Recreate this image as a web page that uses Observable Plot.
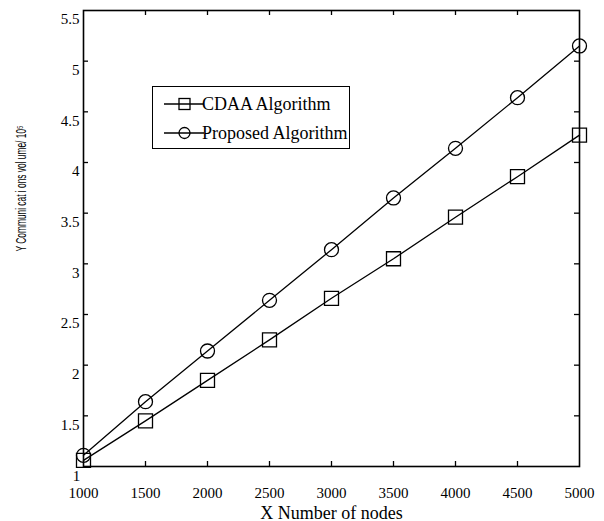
<!DOCTYPE html>
<html>
<head>
<meta charset="utf-8">
<script src="https://cdn.jsdelivr.net/npm/d3@7"></script>
<script src="https://cdn.jsdelivr.net/npm/@observablehq/plot@0.6"></script>
<style>
  html, body { margin: 0; padding: 0; background: #fff; }
  #wrap { position: relative; width: 604px; height: 521px; }
  #legend { position: absolute; left: 152px; top: 86px; width: 196px; height: 61px;
    border: 1.5px solid #000; background: #fff; font-family: "Liberation Serif", "Times New Roman", serif;
    font-size: 18px; color: #000; box-sizing: content-box; white-space: nowrap; }
  #legend .row { position: absolute; left: 0; height: 20px; display: flex; align-items: center; }
  #legend svg { display: block; flex: none; }
</style>
</head>
<body>
<div id="wrap"></div>
<script>
const nodes = [1000, 1500, 2000, 2500, 3000, 3500, 4000, 4500, 5000];
const cdaa = [1.06, 1.45, 1.85, 2.25, 2.66, 3.05, 3.46, 3.86, 4.27];
const proposed = [1.11, 1.64, 2.14, 2.64, 3.14, 3.65, 4.14, 4.64, 5.15];
const xTicks = [1000, 1500, 2000, 2500, 3000, 3500, 4000, 4500, 5000];
const yTicks = [1, 1.5, 2, 2.5, 3, 3.5, 4, 4.5, 5, 5.5];
const seriesNames = ["CDAA Algorithm", "Proposed Algorithm"];
const xLabel = "X Number of nodes";
const yLabel = "Y Communi cat i ons vol ume/ 10⁵";

const W = 604, H = 521;
const mL = 83, mR = 25, mT = 10, mB = 55;
const innerW = W - mL - mR, innerH = H - mT - mB;

const cdaaData = nodes.map((x, i) => ({x, y: cdaa[i]}));
const propData = nodes.map((x, i) => ({x, y: proposed[i]}));
const tk = 5;
const fmt = d => String(d);

const plot = Plot.plot({
  width: W, height: H,
  marginLeft: mL, marginRight: mR, marginTop: mT, marginBottom: mB,
  style: {fontFamily: "'Liberation Serif', 'Times New Roman', serif", fontSize: "15px", color: "#000", background: "#fff"},
  x: {domain: [1000, 5000]},
  y: {domain: [1, 5.5]},
  marks: [
    Plot.axisX({ticks: xTicks, tickFormat: fmt, tickSize: 0, tickPadding: 21, fontSize: 15, label: null}),
    Plot.axisY({ticks: yTicks.filter(d => d !== 1), tickFormat: fmt, tickSize: 0, tickPadding: 4, dy: 9, fontSize: 15, label: null}),
    Plot.text([yTicks[0]], {x: 1000, y: d => d, text: fmt, dx: -7, dy: 10, fontSize: 15}),
    // inward ticks
    Plot.tickX(xTicks.slice(1, -1), {x: d => d, insetTop: innerH - tk, stroke: "#000", strokeWidth: 1.3}),
    Plot.tickX(xTicks.slice(1, -1), {x: d => d, insetBottom: innerH - tk, stroke: "#000", strokeWidth: 1.3}),
    Plot.tickY(yTicks.slice(1, -1), {y: d => d, insetRight: innerW - tk, stroke: "#000", strokeWidth: 1.3}),
    Plot.tickY(yTicks.slice(1, -1), {y: d => d, insetLeft: innerW - tk, stroke: "#000", strokeWidth: 1.3}),
    Plot.frame({stroke: "#000", strokeWidth: 1.6}),
    Plot.line(cdaaData, {x: "x", y: "y", stroke: "#000", strokeWidth: 1.3}),
    Plot.line(propData, {x: "x", y: "y", stroke: "#000", strokeWidth: 1.3}),
    Plot.dot(cdaaData, {x: "x", y: "y", symbol: "square", r: 7.9, stroke: "#000", strokeWidth: 1.3, fill: "none"}),
    Plot.dot(propData, {x: "x", y: "y", symbol: "circle", r: 7, stroke: "#000", strokeWidth: 1.3, fill: "none"}),
    Plot.text([xLabel], {frameAnchor: "bottom", text: d => d, dy: 52, fontSize: 18, className: "xlab"}),
    Plot.text([yLabel], {frameAnchor: "left", text: d => d, rotate: -90, textAnchor: "middle", dx: -62, dy: -50,
      fontFamily: "'Liberation Sans', Arial, sans-serif", fontSize: 14.5, className: "ylab"})
  ]
});

const wrap = document.getElementById("wrap");
wrap.appendChild(plot);
d3.select(plot).selectAll(".ylab text").attr("textLength", 126).attr("lengthAdjust", "spacingAndGlyphs");

const legend = document.createElement("div");
legend.id = "legend";
const symbols = ["square", "circle"];
const rowsY = [7, 36];
seriesNames.forEach((name, i) => {
  const row = document.createElement("div");
  row.className = "row";
  row.style.top = rowsY[i] + "px";
  row.style.left = "10px";
  const s = d3.create("svg").attr("width", 42).attr("height", 20);
  s.append("line").attr("x1", 1).attr("x2", 41).attr("y1", 10).attr("y2", 10)
    .attr("stroke", "#000").attr("stroke-width", 1.3);
  if (symbols[i] === "square") {
    s.append("rect").attr("x", 16).attr("y", 4.5).attr("width", 11).attr("height", 11)
      .attr("fill", "none").attr("stroke", "#000").attr("stroke-width", 1.3);
  } else {
    s.append("circle").attr("cx", 21.5).attr("cy", 10).attr("r", 5.5)
      .attr("fill", "none").attr("stroke", "#000").attr("stroke-width", 1.3);
  }
  row.appendChild(s.node());
  const t = document.createElement("span");
  t.textContent = name;
  t.style.marginLeft = "-3px";
  row.appendChild(t);
  legend.appendChild(row);
});
wrap.appendChild(legend);
</script>
</body>
</html>
